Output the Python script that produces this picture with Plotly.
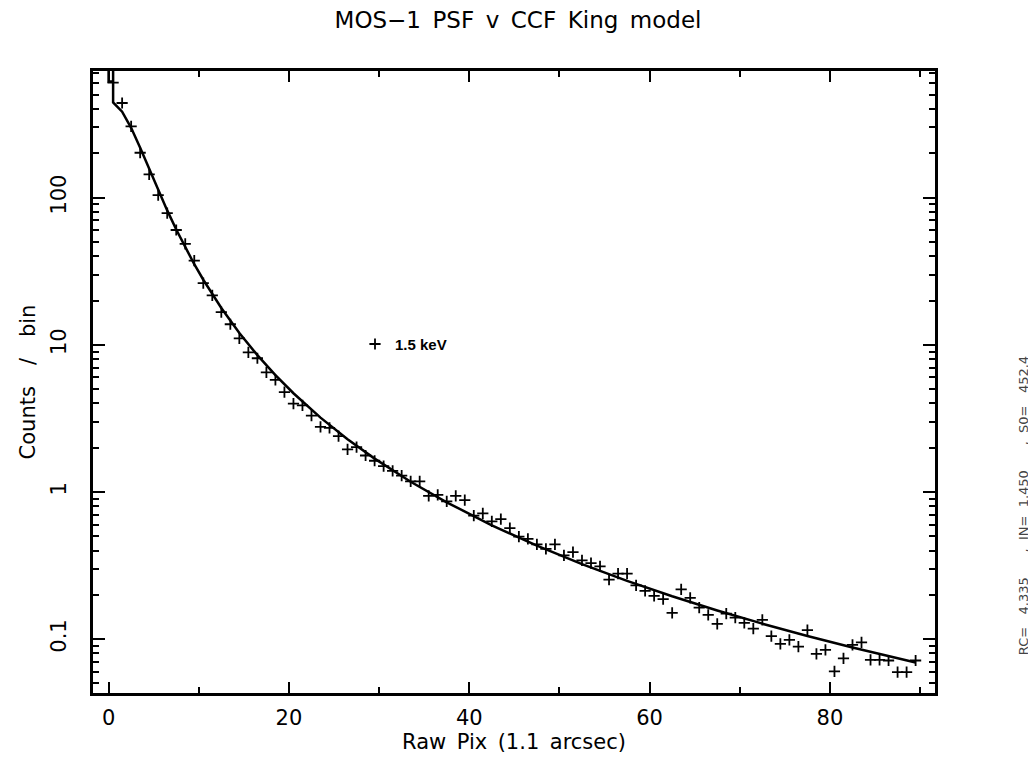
import plotly.graph_objects as go

# PSF data: bin centres (raw pixels) and counts per bin
pix = [i + 0.5 for i in range(90)]
counts = [606, 440, 305, 202, 144, 104, 78.5, 60.3, 48.5, 37.4,
          26.3, 21.7, 16.7, 13.8, 11.07, 8.89, 8.11, 6.51, 5.78, 4.77,
          3.98, 3.88, 3.30, 2.77, 2.73, 2.40, 1.95, 2.02, 1.77, 1.63,
          1.50, 1.39, 1.29, 1.18, 1.18, 0.942, 0.957, 0.863, 0.942, 0.881,
          0.690, 0.716, 0.632, 0.655, 0.569, 0.498, 0.480, 0.440, 0.410, 0.440,
          0.371, 0.390, 0.343, 0.329, 0.312, 0.254, 0.279, 0.279, 0.232, 0.213,
          0.197, 0.187, 0.151, 0.218, 0.191, 0.164, 0.146, 0.127, 0.149, 0.140,
          0.129, 0.118, 0.135, 0.105, 0.0929, 0.0988, 0.0890, 0.115, 0.0794, 0.0845,
          0.0603, 0.0741, 0.0914, 0.0951, 0.0722, 0.0722, 0.0716, 0.0597, 0.0597, 0.0716]

# CCF King model curve (incl. the step at the centre)
model_x = [0, 0, 0.5, 0.5, 0.5, 1.5, 2.5, 3.5, 4.5, 5.5, 6.5, 7.5, 8.5, 9.5,
           10.5, 11.5, 12.5, 14.5, 16.5, 18.5, 20.5, 23.5, 26.5, 29.5, 33.5,
           37.5, 42.5, 47.5, 52.5, 57.5, 62.5, 67.5, 72.5, 77.5, 82.5, 89.5]
model_y = [1000, 615, 615, 1000, 443.8, 384, 298.4, 218.5, 156.7, 112.6, 82.0, 60.8, 45.9, 35.3,
           27.7, 22.04, 17.79, 12.05, 8.51, 6.23, 4.69, 3.20, 2.283, 1.686, 1.174,
           0.851, 0.594, 0.4315, 0.3235, 0.2491, 0.1957, 0.1567, 0.1274, 0.1050, 0.0877, 0.0693]

y_ticks = [0.1, 1, 10, 100]
y_ticktext = ["0.1", "1", "10", "100"]

SP = "\u2002"  # en space, the plot's text has wide word gaps
NB = "\u00a0"
params_text = ("RC=" + NB * 3 + "4.335" + NB * 6 + "," + NB * 2 + "IN=" + NB * 2 + "1.450"
               + NB * 6 + "," + NB * 2 + "S0=" + NB * 3 + "452.4")

FONT = "DejaVu Sans, Verdana, sans-serif"

fig = go.Figure()
fig.add_trace(go.Scatter(x=model_x, y=model_y, mode="lines",
                         line=dict(color="black", width=2.5), showlegend=False))
fig.add_trace(go.Scatter(x=pix, y=counts, mode="markers", name="1.5 keV",
                         marker=dict(symbol="cross-thin", size=8,
                                     line=dict(color="black", width=1.8))))

minor_y = [m * 10 ** e for e in range(-2, 3) for m in range(2, 10)]

# the page has an 8px body margin, so the figure is 8px smaller than the window
fig.update_layout(
    width=1028, height=755,
    margin=dict(l=85, r=101, t=63, b=58),
    paper_bgcolor="white", plot_bgcolor="white",
    font=dict(family=FONT, color="black"),
    title=dict(text=SP.join(["MOS\u22121", "PSF", "v", "CCF", "King", "model"]),
               x=(518 - 8) / 1028, xanchor="center",
               y=1 - 12 / 755, yanchor="middle", font=dict(size=23)),
    legend=dict(x=(355 - 93) / 842, y=(697 - 346) / 626, xanchor="left", yanchor="middle",
                bgcolor="rgba(0,0,0,0)",
                font=dict(family="Liberation Sans, Arial, sans-serif", size=15, weight="bold"),
                itemwidth=30),
    xaxis=dict(range=[-1.73, 91.65], tick0=0, dtick=20, ticks="inside", ticklen=11,
               tickwidth=2, tickcolor="black", showline=True, linewidth=2.5, linecolor="black",
               mirror="allticks", showgrid=False, zeroline=False,
               tickfont=dict(size=21), ticklabelstandoff=4,
               minor=dict(dtick=10, ticks="inside", ticklen=6, tickwidth=2, tickcolor="black",
                          showgrid=False),
               title=dict(text=SP.join(["Raw", "Pix", "(1.1", "arcsec)"]), font=dict(size=21),
                          standoff=6)),
    yaxis=dict(type="log", range=[-1.366, 2.861], tickmode="array", tickvals=y_ticks,
               ticktext=y_ticktext, ticks="inside", ticklen=12, tickwidth=2, tickcolor="black",
               showline=True, linewidth=2.5, linecolor="black", mirror="allticks",
               showgrid=False, zeroline=False, tickangle=-90,
               tickfont=dict(size=21), ticklabelstandoff=16,
               minor=dict(tickmode="array", tickvals=minor_y, ticks="inside", ticklen=6,
                          tickwidth=2, tickcolor="black", showgrid=False),
               title=dict(text="Counts" + SP * 2 + "/" + SP * 2 + "bin", font=dict(size=21),
                          standoff=6)),
    annotations=[dict(text=params_text, xref="paper", yref="paper",
                      x=(1023 - 93) / 842, y=(697 - 508) / 626, xanchor="center", yanchor="middle",
                      textangle=-90, showarrow=False, font=dict(size=13, color="#444"))],
)

fig.write_html("out.html")
